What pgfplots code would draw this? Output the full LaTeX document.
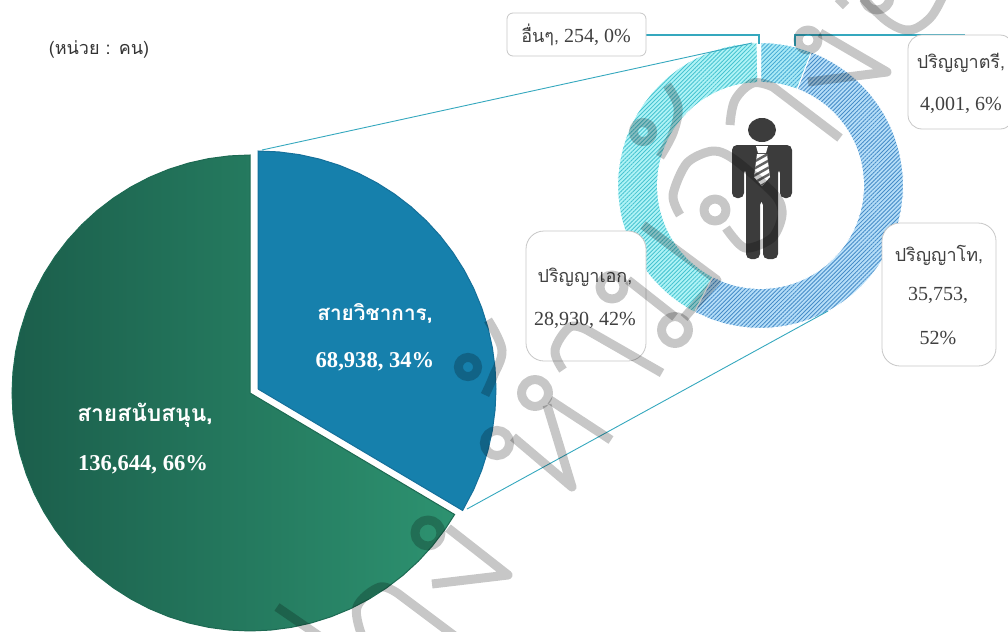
\documentclass[border=0pt]{standalone}
\usepackage{pgfplots}
\pgfplotsset{compat=1.18}
\usepackage{fontspec}
\usetikzlibrary{patterns.meta}
\setmainfont{Liberation Serif}
\newfontfamily\thai[Script=Thai]{Loma}
\definecolor{gL}{HTML}{1B5E4B}
\definecolor{gR}{HTML}{2D9270}
\definecolor{gE}{HTML}{1D6A53}
\definecolor{bF}{HTML}{1680AC}
\definecolor{bE}{HTML}{15709A}
\definecolor{lead}{HTML}{35A8BE}
\definecolor{txt}{HTML}{404040}
\definecolor{icon}{HTML}{3C3C3C}
\pgfplotsset{base/.style={scale only axis,width=504pt,height=316pt,hide axis,at={(0,0)},anchor=south west,clip=true}}
\tikzset{wm/.style={draw=black,draw opacity=.22,line width=4.5pt,line cap=butt,line join=round},
 lab/.style={font=\fontsize{10}{12}\selectfont,text=txt,inner sep=0pt},
 tlab/.style={font=\fontsize{9}{12}\selectfont,text=txt,inner sep=0pt},
 wlab/.style={font=\fontsize{11.3}{13}\selectfont\bfseries,text=white,inner sep=0pt},
 twlab/.style={font=\fontsize{10.4}{13}\selectfont\bfseries,text=white,inner sep=0pt},
 box/.style={draw=black!22,fill=white,line width=.4pt}}
\begin{document}
\begin{tikzpicture}
\useasboundingbox (0,0) rectangle (504pt,316pt);
% support staff 136,644 (66%)
\begin{axis}[base,xmin=-250,xmax=758,ymin=-239,ymax=393]
\addplot[data cs=polar,draw=gE,line width=.5pt,left color=gL,right color=gR] coordinates {
(0,0)(-30.7,238)(-35,238)(-40,238)(-45,238)(-50,238)(-55,238)(-60,238)(-65,238)(-70,238)(-75,238)(-80,238)(-85,238)(-90,238)(-95,238)(-100,238)(-105,238)(-110,238)(-115,238)(-120,238)(-125,238)(-130,238)(-135,238)(-140,238)(-145,238)(-150,238)(-155,238)(-160,238)(-165,238)(-170,238)(-175,238)(-180,238)(-185,238)(-190,238)(-195,238)(-200,238)(-205,238)(-210,238)(-215,238)(-220,238)(-225,238)(-230,238)(-235,238)(-240,238)(-245,238)(-250,238)(-255,238)(-260,238)(-265,238)(-270,238)(0,0)};
\end{axis}
% academic staff 68,938 (34%)
\begin{axis}[base,xmin=-258,xmax=750,ymin=-243,ymax=389]
\addplot[data cs=polar,draw=bE,line width=.5pt,fill=bF] coordinates {
(0,0)(90,238)(85,238)(80,238)(75,238)(70,238)(65,238)(60,238)(55,238)(50,238)(45,238)(40,238)(35,238)(30,238)(25,238)(20,238)(15,238)(10,238)(5,238)(0,238)(-5,238)(-10,238)(-15,238)(-20,238)(-25,238)(-30.7,238)(0,0)};
\end{axis}
% doughnut: 4,001 / 35,753 / 28,930 / 254
\begin{axis}[base,xmin=-760.5,xmax=247.5,ymin=-446.5,ymax=185.5]
\addplot[data cs=polar,draw=none,fill={rgb,255:red,170;green,234;blue,246}] coordinates {(90,143)(85,143)(80,143)(75,143)(69.1,143)(69.1,103)(75,103)(80,103)(85,103)(90,103)(90,143)};
\addplot[data cs=polar,draw=white,line width=.5pt,pattern={Lines[angle=45,distance=1.45pt,line width=.42pt]},pattern color={rgb,255:red,70;green,170;blue,212}] coordinates {(90,143)(85,143)(80,143)(75,143)(69.1,143)(69.1,103)(75,103)(80,103)(85,103)(90,103)(90,143)};
\addplot[data cs=polar,draw=none,fill={rgb,255:red,182;green,222;blue,248}] coordinates {(69.1,143)(65,143)(60,143)(55,143)(50,143)(45,143)(40,143)(35,143)(30,143)(25,143)(20,143)(15,143)(10,143)(5,143)(0,143)(-5,143)(-10,143)(-15,143)(-20,143)(-25,143)(-30,143)(-35,143)(-40,143)(-45,143)(-50,143)(-55,143)(-60,143)(-65,143)(-70,143)(-75,143)(-80,143)(-85,143)(-90,143)(-95,143)(-100,143)(-105,143)(-110,143)(-117.6,143)(-117.6,103)(-110,103)(-105,103)(-100,103)(-95,103)(-90,103)(-85,103)(-80,103)(-75,103)(-70,103)(-65,103)(-60,103)(-55,103)(-50,103)(-45,103)(-40,103)(-35,103)(-30,103)(-25,103)(-20,103)(-15,103)(-10,103)(-5,103)(0,103)(5,103)(10,103)(15,103)(20,103)(25,103)(30,103)(35,103)(40,103)(45,103)(50,103)(55,103)(60,103)(65,103)(69.1,103)(69.1,143)};
\addplot[data cs=polar,draw=white,line width=.5pt,pattern={Lines[angle=45,distance=1.45pt,line width=.42pt]},pattern color={rgb,255:red,70;green,140;blue,200}] coordinates {(69.1,143)(65,143)(60,143)(55,143)(50,143)(45,143)(40,143)(35,143)(30,143)(25,143)(20,143)(15,143)(10,143)(5,143)(0,143)(-5,143)(-10,143)(-15,143)(-20,143)(-25,143)(-30,143)(-35,143)(-40,143)(-45,143)(-50,143)(-55,143)(-60,143)(-65,143)(-70,143)(-75,143)(-80,143)(-85,143)(-90,143)(-95,143)(-100,143)(-105,143)(-110,143)(-117.6,143)(-117.6,103)(-110,103)(-105,103)(-100,103)(-95,103)(-90,103)(-85,103)(-80,103)(-75,103)(-70,103)(-65,103)(-60,103)(-55,103)(-50,103)(-45,103)(-40,103)(-35,103)(-30,103)(-25,103)(-20,103)(-15,103)(-10,103)(-5,103)(0,103)(5,103)(10,103)(15,103)(20,103)(25,103)(30,103)(35,103)(40,103)(45,103)(50,103)(55,103)(60,103)(65,103)(69.1,103)(69.1,143)};
\addplot[data cs=polar,draw=none,fill={rgb,255:red,175;green,243;blue,246}] coordinates {(-117.6,143)(-120,143)(-125,143)(-130,143)(-135,143)(-140,143)(-145,143)(-150,143)(-155,143)(-160,143)(-165,143)(-170,143)(-175,143)(-180,143)(-185,143)(-190,143)(-195,143)(-200,143)(-205,143)(-210,143)(-215,143)(-220,143)(-225,143)(-230,143)(-235,143)(-240,143)(-245,143)(-250,143)(-255,143)(-260,143)(-268.7,143)(-268.7,103)(-260,103)(-255,103)(-250,103)(-245,103)(-240,103)(-235,103)(-230,103)(-225,103)(-220,103)(-215,103)(-210,103)(-205,103)(-200,103)(-195,103)(-190,103)(-185,103)(-180,103)(-175,103)(-170,103)(-165,103)(-160,103)(-155,103)(-150,103)(-145,103)(-140,103)(-135,103)(-130,103)(-125,103)(-120,103)(-117.6,103)(-117.6,143)};
\addplot[data cs=polar,draw=white,line width=.5pt,pattern={Lines[angle=45,distance=1.45pt,line width=.42pt]},pattern color={rgb,255:red,70;green,195;blue,208}] coordinates {(-117.6,143)(-120,143)(-125,143)(-130,143)(-135,143)(-140,143)(-145,143)(-150,143)(-155,143)(-160,143)(-165,143)(-170,143)(-175,143)(-180,143)(-185,143)(-190,143)(-195,143)(-200,143)(-205,143)(-210,143)(-215,143)(-220,143)(-225,143)(-230,143)(-235,143)(-240,143)(-245,143)(-250,143)(-255,143)(-260,143)(-268.7,143)(-268.7,103)(-260,103)(-255,103)(-250,103)(-245,103)(-240,103)(-235,103)(-230,103)(-225,103)(-220,103)(-215,103)(-210,103)(-205,103)(-200,103)(-195,103)(-190,103)(-185,103)(-180,103)(-175,103)(-170,103)(-165,103)(-160,103)(-155,103)(-150,103)(-145,103)(-140,103)(-135,103)(-130,103)(-125,103)(-120,103)(-117.6,103)(-117.6,143)};
\addplot[data cs=polar,draw=white,line width=.7pt,fill=white] coordinates {(-268.7,143)(-270,143)(-270,103)(-268.7,103)(-268.7,143)};
\end{axis}
% page-coordinate layer: text, boxes, leaders, icon, watermark
\begin{axis}[base,xmin=0,xmax=1008,ymin=0,ymax=632,y dir=reverse]
\draw[lead,line width=.45pt] (262,150) -- (752,43);
\draw[lead,line width=.45pt] (467,509) -- (828,311);
\draw[lead,line width=.6pt] (646,35) -- (759,35) -- (759,44);
\draw[lead,line width=.6pt] (795,46) -- (795,35) -- (965,35);
\draw[box,rounded corners=3pt] (507,13) rectangle (646,56);
\draw[box,rounded corners=7pt] (908,35) rectangle (1014,129);
\draw[box,rounded corners=9pt] (882,223) rectangle (996,366);
\draw[box,rounded corners=9pt] (526,231) rectangle (646,361);
\node[tlab,text=black!80] at (99,49) {\thai (หน่วย : คน)};
\node[tlab] at (576,35) {\thai อื่นๆ,\rmfamily\fontsize{10}{12}\selectfont\ 254, 0\%};
\node[tlab] at (961,63) {\thai ปริญญาตรี,};
\node[lab] at (961,105) {4,001, 6\%};
\node[tlab] at (939,255) {\thai ปริญญาโท,};
\node[lab] at (938,295) {35,753,};
\node[lab] at (938,338) {52\%};
\node[tlab] at (585,277) {\thai ปริญญาเอก,};
\node[lab] at (585,320) {28,930, 42\%};
\node[twlab] at (375,313) {\thai สายวิชาการ,};
\node[wlab] at (375,362) {68,938, 34\%};
\node[twlab,font=\fontsize{11.4}{13}\selectfont\bfseries] at (145,415) {\thai สายสนับสนุน,};
\node[wlab] at (143,465) {136,644, 66\%};
% person icon
\fill[icon] (762,130) ellipse [x radius=7pt,y radius=6pt];
\fill[icon,rounded corners=2.5pt] (732,198) -- (744,198) -- (744,168) -- (746,168) -- (746,259) -- (760,259) -- (760,200) -- (763,200) -- (763,259) -- (778,259) -- (778,168) -- (780,168) -- (780,198) -- (792,198) -- (792,145) -- (732,145) -- cycle;
\fill[white] (756,146) -- (768,146) -- (766,153) -- (758,153) -- cycle;
\begin{scope}
\clip (757,154) -- (767,154) -- (770,177) -- (762,186) -- (754,177) -- cycle;
\fill[white] (750,150) rectangle (775,190);
\draw[icon!80,line width=1.2pt] (750,164) -- (775,150);
\draw[icon!80,line width=1.2pt] (750,171) -- (775,157);
\draw[icon!80,line width=1.2pt] (750,178) -- (775,164);
\draw[icon!80,line width=1.2pt] (750,185) -- (775,171);
\draw[icon!80,line width=1.2pt] (750,192) -- (775,178);
\end{scope}
% watermark strokes
\draw[wm] plot[smooth,tension=.6] coordinates {(488,320)(502,350)(493,377)(485,395)};
\draw[wm] (468,367) circle [radius=4.8pt];
\draw[wm] plot[smooth,tension=.6] coordinates {(667,85)(678,107)(673,133)(660,157)};
\draw[wm] (643,132) circle [radius=4.8pt];
\draw[wm] (428,533) circle [radius=6.5pt];
\draw[wm] (448,528) -- (508,575) -- (432,584);
\draw[wm] plot[smooth,tension=.6] coordinates {(362,636)(357,607)(380,587)(400,595)} -- (460,640);
\draw[wm] (277,607) -- (325,640);
\draw[wm] (497,443) circle [radius=6.3pt];
\draw[wm] (513,437) -- (572,487) -- (547,405);
\draw[wm] (535,393) circle [radius=6.7pt];
\draw[wm] (550,400) -- (611,440);
\draw[wm] plot[smooth,tension=.6] coordinates {(563,370)(555,350)(570,327)(587,330)} -- (662,373);
\draw[wm] (612,287) circle [radius=6pt];
\draw[wm] (628,280) -- (675,317);
\draw[wm] (643,225) -- (717,280) -- (684,318);
\draw[wm] (675,330) circle [radius=6.7pt];
\draw[wm] plot[smooth,tension=.6] coordinates {(730,125)(735,100)(753,83)(773,87)} -- (840,138);
\draw[wm] (808,40) circle [radius=5pt];
\draw[wm] (820,33) -- (887,72) -- (808,82);
\draw[wm] plot[smooth,tension=.5] coordinates {(680,215)(673,195)(687,163)(713,151)(735,160)(775,195)(782,215)(772,238)(745,248)(726,228)};
\draw[wm] (715,210) circle [radius=5.5pt];
\draw[wm] plot[smooth,tension=.6] coordinates {(863,-2)(888,22)(910,30)(930,18)(942,-2)};
\draw[wm] (877,-3) circle [radius=6.5pt];
\draw[wm] (838,-2) -- (846,6);
\end{axis}
\end{tikzpicture}
\end{document}
